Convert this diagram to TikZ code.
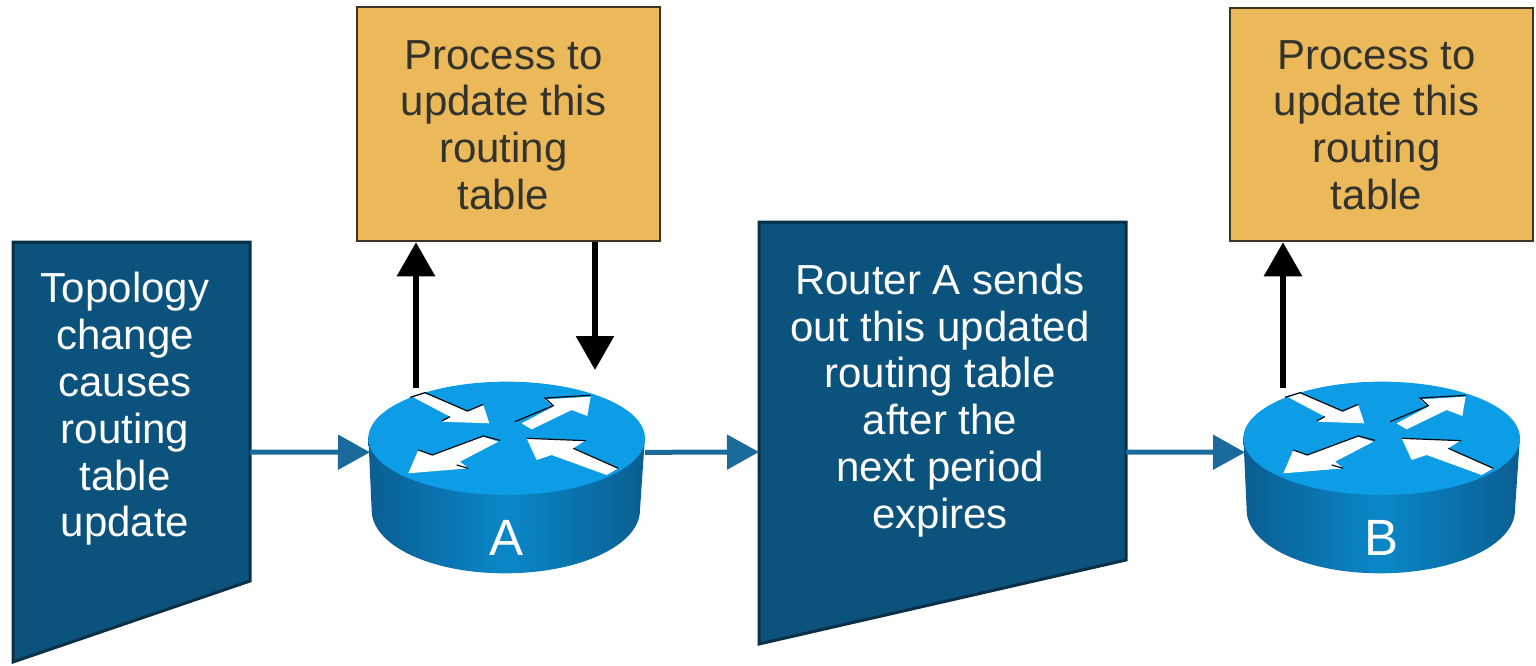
\documentclass[tikz,border=0pt]{standalone}
\usepackage{fontspec}
\setmainfont{Liberation Sans}
\usetikzlibrary{arrows.meta,calc}
\definecolor{navy}{HTML}{0B527D}
\definecolor{navyline}{HTML}{0A3048}
\definecolor{gold}{HTML}{EBB95A}
\definecolor{goldline}{HTML}{3F3420}
\definecolor{linkblue}{HTML}{1A6A9C}
\definecolor{rtop}{HTML}{0C9DE6}
\definecolor{rdark}{HTML}{0A5E92}
\definecolor{rmid}{HTML}{0A87C8}
\definecolor{rtext}{HTML}{33332E}
\tikzset{
  x=1pt,y=-1pt,
  bluetxt/.style={text=white,align=center,font=\fontsize{42}{46.8}\selectfont,inner sep=0pt},
  goldtxt/.style={text=rtext,align=center,font=\fontsize{42}{46.8}\selectfont,inner sep=0pt},
  goldbox/.style={draw=goldline,fill=gold,line width=2.5pt,inner sep=0pt},
  bluebox/.style={draw=navyline,fill=navy,line width=3pt,line join=miter},
  thick arrow/.style={draw=black,line width=6pt,-{Triangle[length=34pt,width=37pt]}},
  link arrow/.style={draw=linkblue,line width=5pt,-{Triangle[length=32pt,width=34pt]}},
  whitearrow/.style={fill=white},
  arrowedge/.style={draw=black!85!navy,line width=1.2pt},
  pics/routerpic/.style={code={
    \begin{scope}[x=0.3333pt,y=-0.3333pt]
      \path[left color=rdark,right color=rdark,middle color=rmid]
        (55,230) -- (65,450) .. controls (65,555) and (240,640) .. (465,640)
        .. controls (690,640) and (870,555) .. (870,450) -- (885,230) -- cycle;
      \fill[rtop] (470,235) ellipse [x radius=415,y radius=170];
      \fill[whitearrow] (190,112) -- (225,100) -- (355,155) -- (400,135) -- (418,190) -- (275,185) -- (300,170) -- cycle;
      \draw[arrowedge] (180,112) -- (225,98) -- (352,153) -- (400,133);
      \draw[arrowedge] (275,183) -- (300,170);
      \fill[whitearrow] (515,190) -- (610,140) -- (585,118) -- (722,110) -- (712,168) -- (665,150) -- (545,208) -- cycle;
      \draw[arrowedge] (495,185) -- (610,137) -- (585,114) -- (722,106);
      \fill[whitearrow] (445,245) -- (330,305) -- (355,325) -- (175,340) -- (205,270) -- (245,285) -- (400,230) -- cycle;
      \draw[arrowedge] (205,270) -- (247,285) -- (400,228) -- (450,241);
      \draw[arrowedge] (320,315) -- (355,325);
      \fill[whitearrow] (805,325) -- (670,265) -- (705,242) -- (530,235) -- (560,300) -- (605,285) -- (770,345) -- cycle;
      \draw[arrowedge] (530,235) -- (708,242);
      \draw[arrowedge] (670,265) -- (805,325);
      \node[text=white,inner sep=0pt,font=\fontsize{51}{56}\selectfont] (-name) at (470,535) {#1};
      \coordinate (-west) at (60,277);
      \coordinate (-east) at (885,277);
      \coordinate (-up) at (198,84);
      \coordinate (-upb) at (174,84);
      \coordinate (-down) at (735,30);
    \end{scope}
  }}
}
\begin{document}
\begin{tikzpicture}
\useasboundingbox (0,0) rectangle (1536,666);
% text-bearing shapes
\path[bluebox] (13,242) -- (250,242) -- (250,581) -- (13,662) -- cycle;
\node[bluetxt] (topo) at (125,409) {Topology\\change\\causes\\routing\\table\\update};
\path[bluebox] (759,222) -- (1126,222) -- (1126,560) -- (759,644) -- cycle;
\node[bluetxt] (sends) at (940,400.5) {Router A sends\\out this updated\\routing table\\after the\\next period\\expires};
\coordinate (topoE) at (250,452);
\coordinate (sendsW) at (759,452);
\coordinate (sendsE) at (1126,452);
\node[goldbox,minimum width=303pt,minimum height=234pt] (boxA) at (508.5,124) {};
\node[goldtxt] at (503.5,125) {Process to\\update this\\routing\\table};
\node[goldbox,minimum width=303pt,minimum height=233pt] (boxB) at (1381.5,124.5) {};
\node[goldtxt] at (1376.5,125) {Process to\\update this\\routing\\table};
% routers
\pic (A) at (350,360) {routerpic=A};
\pic (B) at (1225,360) {routerpic=B};
% connectors
\draw[link arrow] (topoE) -- (A-west);
\draw[link arrow] (A-east) -- (sendsW);
\draw[link arrow] (sendsE) -- (B-west);
\draw[thick arrow] (A-up) -- (A-up |- boxA.south);
\draw[thick arrow] (boxA.south -| A-down) -- (A-down);
\draw[thick arrow] (B-upb) -- (B-upb |- boxB.south);
\end{tikzpicture}
\end{document}
